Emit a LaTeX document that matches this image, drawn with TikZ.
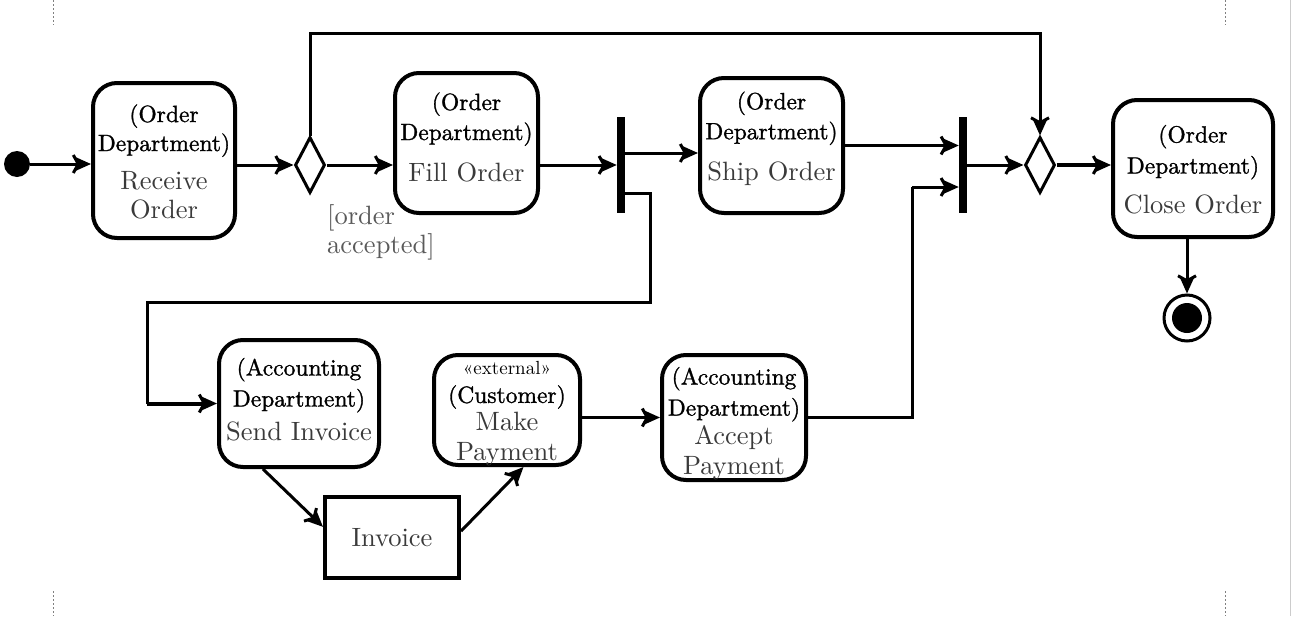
\documentclass[tikz,border=0pt]{standalone}
\usepackage{fontspec}
\setmainfont{lmroman10-regular.otf}[BoldFont=lmroman10-bold.otf]
\newfontfamily\hdfam{lmroman10-regular.otf}[FakeBold=1.2]
\usetikzlibrary{arrows.meta,shapes.geometric,calc}
\definecolor{bodygray}{HTML}{3A3A3A}
\definecolor{guardgray}{HTML}{5A5A5A}
\newcommand\hdf{\hdfam\fontsize{23.5}{30}\selectfont\color{black}}
\newcommand\bdf{\fontsize{26.5}{30}\selectfont\color{bodygray}}
\newcommand\exf{\fontsize{19}{30}\selectfont\color{black}}
\begin{document}
\begin{tikzpicture}[x=1pt,y=-1pt,
  act/.style={draw, rounded corners=24pt, line width=4pt, inner sep=0pt},
  acttext/.style={inner sep=0pt, align=center, font=\fontsize{24.5}{30}\selectfont},
  objbox/.style={draw, line width=4pt, inner sep=0pt, font=\bdf},
  barnode/.style={fill=black, draw=none, minimum width=8pt, minimum height=96pt, inner sep=0pt},
  dec/.style={draw, diamond, line width=3pt, inner sep=0pt, minimum width=30pt, minimum height=56pt},
  arr/.style={line width=3pt, -{Straight Barb[length=5pt,width=18pt,line width=3pt,sep=-6pt] Stealth[length=17pt,width=15pt,inset=4pt]}},
  flow/.style={line width=3pt},
  crop/.style={draw=gray, line width=0.6pt, dash pattern=on 2pt off 2pt}]
\useasboundingbox (0,0) rectangle (1292,616);
% crop marks
\draw[crop] (53,0) -- (53,25);
\draw[crop] (53,591) -- (53,616);
\draw[crop] (1225,0) -- (1225,25);
\draw[crop] (1225,591) -- (1225,616);
\draw[draw=gray!40, line width=0.6pt] (1290,0) -- (1290,616);

% activity boxes
\node[circle, fill=black, minimum size=26pt, inner sep=0pt] (init) at (17,164) {};
\node[act, minimum width=142pt, minimum height=155pt] (ro) at (164,160.5) {};
\node[acttext] (rot) at (164,161.5)
  {{\hdf (Order}\\[-1pt]{\hdf Department)}\\[8pt]{\bdf Receive}\\[-1pt]{\bdf Order}};
\node[dec] (d1) at (310,165) {};
\node[act, minimum width=143pt, minimum height=140pt] (fo) at (466.5,143) {};
\node[acttext] (fot) at (466.5,137)
  {{\hdf (Order}\\{\hdf Department)}\\[11pt]{\bdf Fill Order}};
\node[barnode] (b1) at (621,165) {};
\node[act, minimum width=143pt, minimum height=135pt] (so) at (771.5,145.5) {};
\node[acttext] (sot) at (771.5,138.5)
  {{\hdf (Order}\\{\hdf Department)}\\[11pt]{\bdf Ship Order}};
\node[barnode] (b2) at (963,165) {};
\node[dec] (d2) at (1040,165) {};
\node[act, minimum width=160pt, minimum height=137pt] (co) at (1193,168.5) {};
\node[acttext] (cot) at (1193,169.5)
  {{\hdf (Order}\\[1pt]{\hdf Department)}\\[10pt]{\bdf Close Order}};
\node[circle, draw, line width=3pt, minimum size=46pt, inner sep=0pt] (fin) at (1187,318) {};
\node[circle, fill=black, minimum size=30pt, inner sep=0pt] (fincore) at (fin.center) {};

\node[act, minimum width=160pt, minimum height=127pt] (si) at (299,403.5) {};
\node[acttext] (sit) at (299,399.5)
  {{\hdf (Accounting}\\[1pt]{\hdf Department)}\\[4pt]{\bdf Send Invoice}};
\node[act, minimum width=146pt, minimum height=110pt] (mp) at (507,410) {};
\node[acttext] (mpt) at (507,414)
  {{\exf «external»}\\[-2pt]{\hdf (Customer)}\\[-2pt]{\bdf Make}\\{\bdf Payment}};
\node[act, minimum width=144pt, minimum height=125pt] (ap) at (734,417.5) {};
\node[acttext] (apt) at (734,423.5)
  {{\hdf (Accounting}\\[1pt]{\hdf Department)}\\[-1pt]{\bdf Accept}\\{\bdf Payment}};
\node[objbox, minimum width=134pt, minimum height=81pt] (inv) at (392,537.5) {Invoice};

\node[anchor=north west, align=left, inner sep=0pt, font=\fontsize{26.5}{29}\selectfont, text=guardgray] (guard) at (327,204) {[order\\accepted]};

% helper coordinates
\coordinate (topc) at (675,33);
\coordinate (b1o1) at (625,153);
\coordinate (b1o2) at (625,193);
\coordinate (k1) at (650,302);
\coordinate (k2) at (147,403.5);
\coordinate (k3) at (912,187);

% connectors
\draw[arr] (init.east) -- (init.east -| ro.west);
\draw[arr] (ro.east |- d1.west) -- (d1.west);
\draw[arr] (d1.north) |- (topc) -| (d2.north);
\draw[arr] (d1.east) -- (d1.east -| fo.west);
\draw[arr] (fo.east |- b1.west) -- (b1.west);
\draw[arr] (b1o1) -- (b1o1 -| so.west);
\draw[flow] (b1o2) -| (k1) -| (k2);
\draw[arr, line width=4pt] (k2) -- (si.west);
\draw[arr] ($(si.south)!0.44!(si.south west)$) -- ($(inv.west)!0.25!(inv.north west)$);
\draw[arr] ($(inv.east)!0.15!(inv.north east)$) -- ($(mp.south)!0.22!(mp.south east)$);
\draw[arr] (mp.east |- ap.west) -- (ap.west);
\draw[flow] (ap.east) -| (k3);
\draw[arr] (k3) -- (k3 -| b2.west);
\draw[arr] (so.east) -- (so.east -| b2.west);
\draw[arr] (b2.east) -- (d2.west);
\draw[arr, line width=4pt] (d2.east) -- (d2.east -| co.west);
\draw[arr] (co.south -| fin.north) -- (fin.north);
\end{tikzpicture}
\end{document}
